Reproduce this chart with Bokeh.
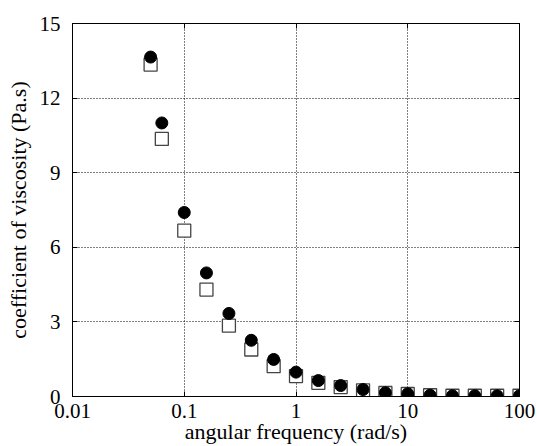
from bokeh.plotting import figure
from bokeh.models import FixedTicker, NumeralTickFormatter, LinearAxis, LogAxis, Range1d
from bokeh.embed import file_html
from bokeh.resources import INLINE

freq = [0.05, 0.063, 0.1, 0.158, 0.251, 0.398, 0.631, 1.0, 1.585, 2.512,
        3.981, 6.31, 10.0, 15.85, 25.12, 39.81, 63.1, 100.0]
viscosity_filled = [13.65, 11.0, 7.4, 4.97, 3.34, 2.26, 1.49, 0.98, 0.64, 0.44,
                    0.28, 0.15, 0.11, 0.05, 0.03, 0.03, 0.03, 0.03]
viscosity_open = [13.35, 10.36, 6.67, 4.30, 2.85, 1.89, 1.22, 0.82, 0.55, 0.38,
                  0.25, 0.14, 0.10, 0.05, 0.03, 0.03, 0.03, 0.03]
x_ticks = [0.01, 0.1, 1, 10, 100]
y_ticks = [0, 3, 6, 9, 12, 15]

FONT = "'Liberation Serif', 'Times New Roman', serif"

p = figure(width=537, height=446, x_axis_type="log",
           x_range=Range1d(0.01, 100), y_range=Range1d(0, 15),
           output_backend="svg", toolbar_location=None,
           min_border_left=72, min_border_right=18, min_border_top=23,
           min_border_bottom=49)

p.outline_line_color = "black"
p.outline_line_width = 1
p.background_fill_color = "white"
p.border_fill_color = "white"

for g in (p.xgrid[0], p.ygrid[0]):
    g.grid_line_color = "black"
    g.grid_line_dash = "1 2"
    g.grid_line_width = 1
p.xgrid[0].ticker = FixedTicker(ticks=x_ticks)
p.ygrid[0].ticker = FixedTicker(ticks=y_ticks)

xa = p.xaxis[0]
xa.ticker = FixedTicker(ticks=x_ticks)
xa.formatter = NumeralTickFormatter(format="0.[00]")
xa.axis_label = "angular frequency (rad/s)"
ya = p.yaxis[0]
ya.ticker = FixedTicker(ticks=y_ticks)
ya.axis_label = "coefficient of viscosity (Pa.s)"

for ax in (xa, ya):
    ax.axis_line_color = "black"
    ax.major_tick_in = 5
    ax.major_tick_out = 0
    ax.minor_tick_line_color = None
    ax.major_tick_line_color = "black"
    ax.major_label_text_font = FONT
    ax.major_label_text_font_size = "21px"
    ax.major_label_text_color = "black"
    ax.axis_label_text_font = FONT
    ax.axis_label_text_font_size = "22px"
    ax.axis_label_text_font_style = "normal"
    ax.axis_label_text_color = "black"

xa.major_label_standoff = 7
xa.axis_label_standoff = -2
ya.major_label_standoff = 12
ya.axis_label_standoff = 6

# mirrored ticks on top and right
top = LogAxis(ticker=FixedTicker(ticks=x_ticks), major_label_text_font_size="0px",
              major_tick_in=5, major_tick_out=0, minor_tick_line_color=None,
              axis_line_color="black", major_label_standoff=0)
top.major_label_text_color = None
right = LinearAxis(ticker=FixedTicker(ticks=y_ticks), major_label_text_font_size="0px",
                   major_tick_in=5, major_tick_out=0, minor_tick_line_color=None,
                   axis_line_color="black", major_label_standoff=0)
right.major_label_text_color = None
p.add_layout(top, "above")
p.add_layout(right, "right")

p.scatter(freq, viscosity_open, marker="square", size=13, fill_color="white",
          line_color="#444444", line_width=1.3)
p.scatter(freq, viscosity_filled, marker="circle", size=12, fill_color="black",
          line_color="black")

open("out.html", "w").write(file_html(p, INLINE))
